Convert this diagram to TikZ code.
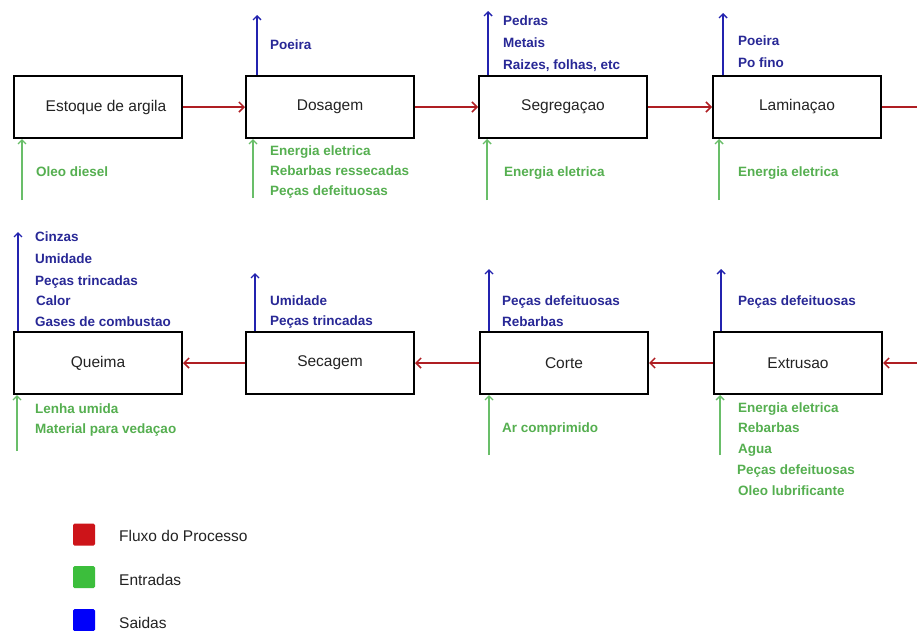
\documentclass[tikz,border=0pt]{standalone}
\usepackage{fontspec}
\setmainfont{Liberation Sans}
\usetikzlibrary{arrows.meta}
\definecolor{flowc}{RGB}{175,30,35}
\definecolor{outc}{RGB}{35,35,175}
\definecolor{outt}{RGB}{40,40,150}
\definecolor{inc}{RGB}{105,190,105}
\definecolor{intx}{RGB}{85,175,80}
\definecolor{lgred}{RGB}{205,20,25}
\definecolor{lggreen}{RGB}{60,190,60}
\definecolor{lgblue}{RGB}{0,0,250}
\definecolor{txtc}{RGB}{35,35,35}
\tikzset{
  procbox/.style={draw=black, line width=2pt, minimum width=168pt, minimum height=62pt,
    inner sep=0pt, font=\fontsize{15.5}{18}\selectfont, text=txtc},
  lbl/.style={font=\fontsize{13.5}{16}\selectfont\bfseries, inner sep=0pt, anchor=base west},
  outl/.style={lbl, text=outt},
  inl/.style={lbl, text=intx},
  flow/.style={draw=flowc, line width=1.5pt, -{Straight Barb[length=5pt,width=10pt,line width=1.5pt]}},
  outarr/.style={draw=outc, line width=1.6pt, -{Straight Barb[length=4pt,width=8pt,line width=1.4pt]}},
  inarr/.style={draw=inc, line width=1.6pt, -{Straight Barb[length=4pt,width=8pt,line width=1.4pt]}},
  legsq/.style={minimum size=22pt, inner sep=0pt, rounded corners=1.5pt},
  legtx/.style={font=\fontsize{15.5}{18}\selectfont, text=txtc, inner sep=0pt, anchor=base west},
}
\begin{document}
\begin{tikzpicture}[x=1pt, y=-1pt]
\useasboundingbox[fill=white] (0,0) rectangle (917,630);

% process boxes
\node[procbox] (est) at (98,107) {\hspace*{16pt}Estoque de argila};
\node[procbox] (dos) at (330,107) {Dosagem};
\node[procbox] (seg) at (563,107) {Segregaçao};
\node[procbox] (lam) at (797,107) {Laminaçao};
\node[procbox] (que) at (98,363) {Queima};
\node[procbox] (sec) at (330,363) {Secagem};
\node[procbox] (cor) at (564,363) {Corte};
\node[procbox] (ext) at (798,363) {Extrusao};

% process flow
\draw[flow] (est) -- (dos);
\draw[flow] (dos) -- (seg);
\draw[flow] (seg) -- (lam);
\coordinate (rt) at (919,107);
\draw[flow] (lam.east) -- (lam.east -| rt) |- (ext.east);
\draw[flow] (ext) -- (cor);
\draw[flow] (cor) -- (sec);
\draw[flow] (sec) -- (que);

% outputs (blue)
\coordinate (dosOt) at (257,15);
\coordinate (segOt) at (488,11);
\coordinate (lamOt) at (723,13);
\coordinate (queOt) at (18,232);
\coordinate (secOt) at (255,273);
\coordinate (corOt) at (489,269);
\coordinate (extOt) at (721,269);
\draw[outarr] (dosOt |- dos.north) -- (dosOt);
\draw[outarr] (segOt |- seg.north) -- (segOt);
\draw[outarr] (lamOt |- lam.north) -- (lamOt);
\draw[outarr] (queOt |- que.north) -- (queOt);
\draw[outarr] (secOt |- sec.north) -- (secOt);
\draw[outarr] (corOt |- cor.north) -- (corOt);
\draw[outarr] (extOt |- ext.north) -- (extOt);

% inputs (green)
\coordinate (estIb) at (22,200);
\coordinate (dosIb) at (253,198);
\coordinate (segIb) at (487,200);
\coordinate (lamIb) at (719,200);
\coordinate (queIb) at (17,451);
\coordinate (corIb) at (489,455);
\coordinate (extIb) at (720,455);
\draw[inarr] (estIb) -- (estIb |- est.south);
\draw[inarr] (dosIb) -- (dosIb |- dos.south);
\draw[inarr] (segIb) -- (segIb |- seg.south);
\draw[inarr] (lamIb) -- (lamIb |- lam.south);
\draw[inarr] (queIb) -- (queIb |- que.south);
\draw[inarr] (corIb) -- (corIb |- cor.south);
\draw[inarr] (extIb) -- (extIb |- ext.south);

% output labels
\node[outl] (dosO1) at (270,49) {Poeira};
\node[outl] (segO1) at (503,25) {Pedras};
\node[outl] (segO2) at (503,47) {Metais};
\node[outl] (segO3) at (503,69) {Raizes, folhas, etc};
\node[outl] (lamO1) at (738,45) {Poeira};
\node[outl] (lamO2) at (738,67) {Po fino};
\node[outl] (queO1) at (35,241) {Cinzas};
\node[outl] (queO2) at (35,263) {Umidade};
\node[outl] (queO3) at (35,285) {Peças trincadas};
\node[outl] (queO4) at (36,305) {Calor};
\node[outl] (queO5) at (35,326) {Gases de combustao};
\node[outl] (secO1) at (270,305) {Umidade};
\node[outl] (secO2) at (270,325) {Peças trincadas};
\node[outl] (corO1) at (502,305) {Peças defeituosas};
\node[outl] (corO2) at (502,326) {Rebarbas};
\node[outl] (extO1) at (738,305) {Peças defeituosas};

% input labels
\node[inl] (estI1) at (36,176) {Oleo diesel};
\node[inl] (dosI1) at (270,155) {Energia eletrica};
\node[inl] (dosI2) at (270,175) {Rebarbas ressecadas};
\node[inl] (dosI3) at (270,195) {Peças defeituosas};
\node[inl] (segI1) at (504,176) {Energia eletrica};
\node[inl] (lamI1) at (738,176) {Energia eletrica};
\node[inl] (queI1) at (35,413) {Lenha umida};
\node[inl] (queI2) at (35,433) {Material para vedaçao};
\node[inl] (corI1) at (502,432) {Ar comprimido};
\node[inl] (extI1) at (738,412) {Energia eletrica};
\node[inl] (extI2) at (738,432) {Rebarbas};
\node[inl] (extI3) at (738,453) {Agua};
\node[inl] (extI4) at (737,474) {Peças defeituosas};
\node[inl] (extI5) at (738,495) {Oleo lubrificante};

% legend
\node[legsq, fill=lgred] (lgR) at (84,534.5) {};
\node[legsq, fill=lggreen] (lgG) at (84,577) {};
\node[legsq, fill=lgblue] (lgB) at (84,620) {};
\node[legtx] (lgRt) at (119,541.5) {Fluxo do Processo};
\node[legtx] (lgGt) at (119,585.5) {Entradas};
\node[legtx] (lgBt) at (119,628.5) {Saidas};
\end{tikzpicture}
\end{document}
